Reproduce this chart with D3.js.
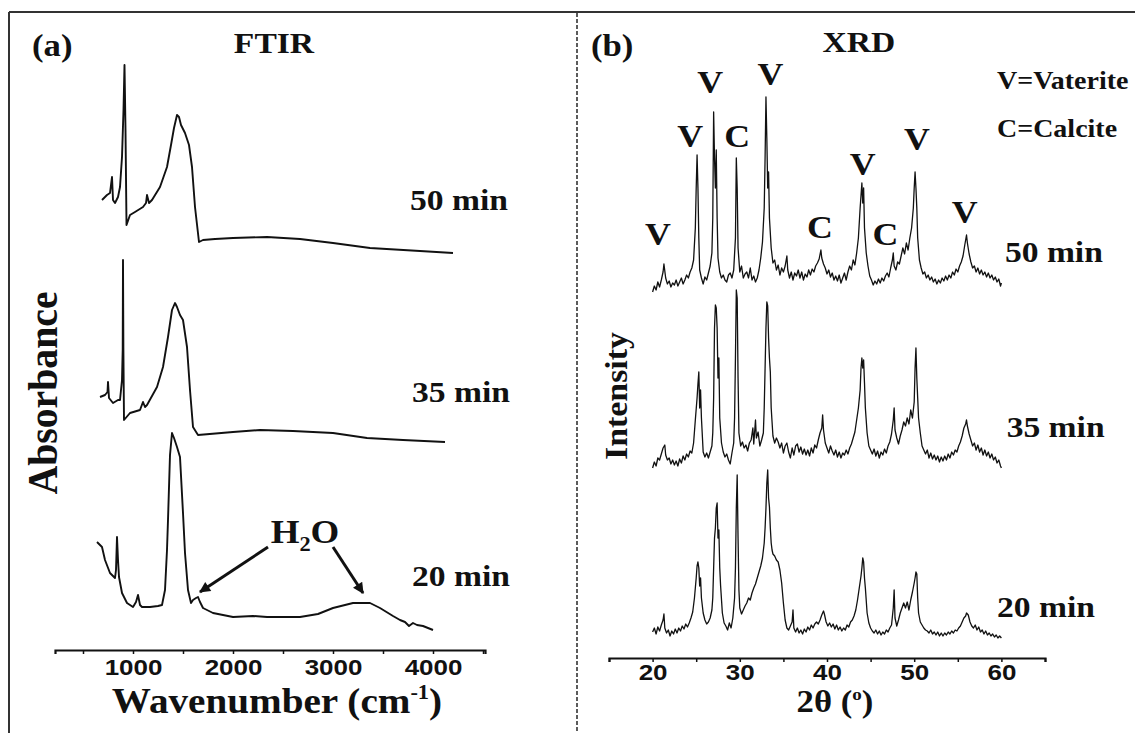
<!DOCTYPE html>
<html>
<head>
<meta charset="utf-8">
<script src="https://cdn.jsdelivr.net/npm/d3@7"></script>
<style>
  html, body { margin: 0; padding: 0; background: #fff; }
  svg { display: block; }
</style>
</head>
<body>
<script>
// ---------- FTIR spectra: [wavenumber (cm-1), absorbance (a.u., stacked)] ----------
const ftirTicks = [1000, 2000, 3000, 4000];
const ftirMinorTicks = [500, 1500, 2500, 3500, 4500];

const ftir50 = [[690,450],[740,455],[770,457],[790,473],[800,450],[820,447],[850,453],[870,463],
  [890,493],[905,540],[915,585],[925,520],[935,425],[970,435],[1020,438],[1100,443],[1130,447],
  [1140,455],[1160,447],[1190,450],[1270,463],[1340,483],[1380,505],[1410,522],[1440,535],
  [1460,533],[1480,525],[1520,517],[1560,505],[1590,483],[1620,443],[1660,408],[1700,410],
  [1820,411],[2000,412],[2340,413],[2670,411],[3000,407],[3370,402],[3870,399],[4200,397]];

const ftir35 = [[670,253],[720,255],[745,258],[750,268],[760,252],[800,247],[850,250],[870,250],
  [890,270],[897,300],[900,390],[904,300],[910,230],[970,237],[1070,240],[1100,248],[1120,243],
  [1140,245],[1240,263],[1300,283],[1350,313],[1390,340],[1420,347],[1440,343],[1470,335],
  [1500,330],[1540,303],[1570,260],[1600,223],[1650,215],[2000,218],[2270,220],[2600,219],
  [3000,217],[3340,212],[3700,210],[4120,208]];

const ftir20 = [[640,108],[690,103],[720,90],[770,77],[820,72],[830,80],[840,113],[850,90],
  [860,73],[890,57],[940,47],[1000,43],[1030,48],[1050,55],[1070,45],[1090,43],[1170,43],
  [1250,44],[1290,45],[1320,60],[1340,100],[1350,130],[1370,195],[1390,217],[1410,212],
  [1440,203],[1470,193],[1500,137],[1520,97],[1550,60],[1580,47],[1600,50],[1630,52],[1650,53],
  [1670,48],[1700,42],[1800,37],[2000,33],[2200,34],[2340,33],[2670,33],[2850,36],[3000,42],
  [3200,47],[3370,47],[3470,42],[3600,34],[3670,30],[3720,28],[3760,24],[3800,27],[3840,25],
  [3900,24],[3950,22],[4000,20]];

const ftirSeries = [ftir50, ftir35, ftir20];
const ftirTimes = ["50 min", "35 min", "20 min"];

// ---------- XRD patterns: [2θ (deg), intensity (a.u., stacked)] ----------
const xrdTicks = [20, 30, 40, 50, 60];
const xrdMinorTicks = [15, 25, 35, 45, 55, 65];

const xrd50 = [[20.0,366],[20.2,372],[20.4,368],[20.6,376],[20.8,371],[21.0,378],[21.2,386],[21.3,394],
  [21.5,380],[21.7,374],[21.9,377],[22.1,371],[22.3,375],[22.5,373],[22.7,378],[22.9,372],[23.1,376],
  [23.3,380],[23.5,374],[23.7,378],[23.9,383],[24.1,380],[24.3,386],[24.5,390],[24.7,398],[24.9,430],
  [25.0,470],[25.1,503],[25.2,470],[25.3,420],[25.4,388],[25.6,380],[25.8,374],[26.0,381],[26.2,378],
  [26.4,385],[26.6,392],[26.8,405],[26.9,440],[27.0,546],[27.1,500],[27.2,470],[27.3,508],[27.4,440],
  [27.5,400],[27.7,386],[27.9,380],[28.1,383],[28.3,378],[28.5,376],[28.7,383],[28.9,385],[29.1,380],
  [29.3,388],[29.5,420],[29.6,500],[29.7,470],[29.8,410],[30.0,386],[30.2,392],[30.4,380],[30.6,384],
  [30.8,386],[31.0,380],[31.2,390],[31.4,378],[31.6,382],[31.8,376],[32.0,380],[32.2,388],[32.4,400],
  [32.6,416],[32.8,450],[32.9,500],[33.0,561],[33.1,520],[33.2,470],[33.3,486],[33.4,440],[33.6,410],
  [33.8,395],[34.0,398],[34.2,388],[34.4,393],[34.6,383],[34.8,390],[35.0,386],[35.2,392],[35.4,402],
  [35.5,388],[35.7,380],[35.9,386],[36.1,378],[36.3,385],[36.5,382],[36.7,388],[36.9,380],[37.1,386],
  [37.3,378],[37.5,384],[37.7,381],[37.9,388],[38.1,383],[38.3,389],[38.5,386],[38.7,392],[38.9,395],
  [39.1,399],[39.3,408],[39.4,400],[39.6,394],[39.8,390],[40.0,384],[40.2,388],[40.4,381],[40.6,385],
  [40.8,378],[41.0,382],[41.2,377],[41.4,383],[41.6,375],[41.8,380],[42.0,385],[42.2,378],[42.4,386],
  [42.6,392],[42.8,388],[43.0,398],[43.2,393],[43.4,405],[43.6,420],[43.8,450],[44.0,475],[44.1,455],
  [44.2,470],[44.3,430],[44.5,405],[44.7,392],[44.9,382],[45.1,378],[45.3,373],[45.5,377],[45.7,374],
  [45.9,379],[46.1,375],[46.3,380],[46.5,377],[46.7,382],[46.9,385],[47.1,381],[47.3,390],[47.5,398],
  [47.6,405],[47.7,392],[47.9,388],[48.1,396],[48.3,394],[48.5,402],[48.7,410],[48.9,404],[49.1,415],
  [49.3,408],[49.5,420],[49.7,430],[49.9,450],[50.0,470],[50.1,486],[50.2,470],[50.3,450],[50.4,420],
  [50.6,398],[50.8,390],[51.0,384],[51.2,386],[51.4,380],[51.6,383],[51.8,378],[52.0,381],[52.2,376],
  [52.4,379],[52.6,374],[52.8,378],[53.0,375],[53.2,380],[53.4,377],[53.6,382],[53.8,378],[54.0,383],
  [54.2,380],[54.4,386],[54.6,383],[54.8,389],[55.0,386],[55.2,392],[55.4,396],[55.6,402],[55.8,413],
  [56.0,423],[56.1,415],[56.3,404],[56.5,396],[56.7,390],[56.9,392],[57.1,386],[57.3,390],[57.5,384],
  [57.7,388],[57.9,383],[58.1,386],[58.3,381],[58.5,385],[58.7,380],[58.9,383],[59.1,378],[59.3,381],
  [59.5,376],[59.7,379],[59.9,372],[60.0,375]];

const xrd35 = [[20.0,190],[20.2,196],[20.4,192],[20.6,200],[20.8,198],[21.0,204],[21.2,210],[21.4,213],
  [21.5,203],[21.7,198],[21.9,200],[22.1,194],[22.3,198],[22.5,193],[22.7,197],[22.9,192],[23.1,199],
  [23.3,195],[23.5,202],[23.7,198],[23.9,204],[24.1,201],[24.3,207],[24.5,205],[24.7,215],[24.9,238],
  [25.1,260],[25.2,274],[25.3,286],[25.4,250],[25.5,268],[25.6,240],[25.8,206],[26.0,201],[26.2,205],
  [26.4,200],[26.6,206],[26.8,212],[26.9,225],[27.0,260],[27.1,330],[27.2,353],[27.3,350],[27.4,330],
  [27.5,280],[27.6,300],[27.7,240],[27.9,215],[28.1,206],[28.3,201],[28.5,204],[28.7,198],[28.9,194],
  [29.1,205],[29.3,215],[29.4,240],[29.5,300],[29.6,368],[29.7,360],[29.8,280],[29.9,225],[30.1,212],
  [30.3,216],[30.5,210],[30.7,213],[30.9,207],[31.1,215],[31.3,218],[31.5,230],[31.6,214],[31.8,238],
  [31.9,220],[32.1,226],[32.3,212],[32.5,218],[32.7,225],[32.8,250],[32.9,290],[33.0,330],[33.1,356],
  [33.2,352],[33.3,320],[33.4,300],[33.5,286],[33.6,250],[33.8,222],[34.0,215],[34.2,220],[34.4,216],
  [34.6,210],[34.8,215],[35.0,205],[35.2,212],[35.4,215],[35.6,206],[35.8,200],[36.0,210],[36.2,203],
  [36.4,212],[36.6,214],[36.8,206],[37.0,211],[37.2,204],[37.4,209],[37.6,203],[37.8,208],[38.0,202],
  [38.2,210],[38.4,205],[38.6,213],[38.8,210],[39.0,218],[39.2,225],[39.4,230],[39.5,243],[39.6,228],
  [39.8,215],[40.0,210],[40.2,205],[40.4,212],[40.6,207],[40.8,203],[41.0,208],[41.2,201],[41.4,206],
  [41.6,200],[41.8,205],[42.0,203],[42.2,208],[42.4,204],[42.6,210],[42.8,214],[43.0,220],[43.2,226],
  [43.4,238],[43.6,250],[43.8,268],[43.9,290],[44.0,300],[44.1,290],[44.2,298],[44.3,275],[44.4,250],
  [44.6,225],[44.8,212],[45.0,208],[45.2,204],[45.4,209],[45.6,202],[45.8,207],[46.0,200],[46.2,206],
  [46.4,203],[46.6,209],[46.8,205],[47.0,212],[47.2,216],[47.4,224],[47.6,238],[47.7,250],[47.8,228],
  [48.0,220],[48.2,214],[48.4,222],[48.6,228],[48.8,236],[49.0,232],[49.2,240],[49.4,234],[49.6,248],
  [49.8,240],[50.0,256],[50.1,290],[50.2,310],[50.3,280],[50.4,260],[50.5,240],[50.7,225],[50.9,212],
  [51.1,208],[51.3,204],[51.5,208],[51.7,200],[51.9,205],[52.1,199],[52.3,203],[52.5,198],[52.7,202],
  [52.9,196],[53.1,201],[53.3,197],[53.5,202],[53.7,198],[53.9,204],[54.1,200],[54.3,206],[54.5,203],
  [54.7,208],[54.9,206],[55.1,212],[55.3,216],[55.5,222],[55.7,230],[55.9,234],[56.0,238],[56.1,232],
  [56.3,224],[56.5,218],[56.7,212],[56.9,215],[57.1,208],[57.3,213],[57.5,206],[57.7,210],[57.9,203],
  [58.1,208],[58.3,202],[58.5,206],[58.7,200],[58.9,204],[59.1,198],[59.3,201],[59.5,195],[59.7,198],
  [59.9,192],[60.0,190]];

const xrd20 = [[20.0,26],[20.2,30],[20.4,24],[20.6,31],[20.8,27],[21.0,33],[21.2,38],[21.3,44],[21.4,30],
  [21.6,25],[21.8,28],[22.0,22],[22.2,27],[22.4,24],[22.6,29],[22.8,25],[23.0,30],[23.2,27],[23.4,32],
  [23.6,29],[23.8,34],[24.0,31],[24.2,35],[24.4,40],[24.6,46],[24.8,60],[25.0,80],[25.1,92],[25.2,96],
  [25.3,90],[25.4,72],[25.5,80],[25.6,60],[25.8,45],[26.0,38],[26.2,34],[26.4,36],[26.6,40],[26.8,48],
  [26.9,60],[27.0,90],[27.1,120],[27.2,130],[27.3,150],[27.4,155],[27.5,120],[27.6,128],[27.7,90],
  [27.8,72],[28.0,45],[28.2,35],[28.4,32],[28.6,28],[28.8,35],[29.0,30],[29.2,40],[29.4,60],[29.5,90],
  [29.6,150],[29.7,183],[29.8,120],[29.9,68],[30.0,50],[30.2,44],[30.4,48],[30.6,52],[30.8,55],[31.0,60],
  [31.2,58],[31.4,65],[31.6,70],[31.8,74],[32.0,80],[32.2,86],[32.4,92],[32.6,100],[32.8,115],[32.9,130],
  [33.0,150],[33.1,175],[33.2,188],[33.3,160],[33.4,151],[33.5,130],[33.6,115],[33.7,108],[33.8,104],
  [34.0,102],[34.2,98],[34.4,96],[34.6,88],[34.8,75],[35.0,55],[35.2,38],[35.4,30],[35.6,28],[35.8,32],
  [36.0,36],[36.1,48],[36.2,30],[36.4,26],[36.6,30],[36.8,25],[37.0,28],[37.2,24],[37.4,29],[37.6,26],
  [37.8,31],[38.0,28],[38.2,33],[38.4,30],[38.6,34],[38.8,36],[39.0,34],[39.2,38],[39.4,43],[39.6,47],
  [39.7,44],[39.9,36],[40.1,32],[40.3,35],[40.5,31],[40.7,34],[40.9,29],[41.1,33],[41.3,28],[41.5,31],
  [41.7,27],[41.9,30],[42.1,28],[42.3,33],[42.5,31],[42.7,36],[42.9,38],[43.1,42],[43.3,48],[43.5,58],
  [43.7,70],[43.9,82],[44.0,90],[44.1,100],[44.2,96],[44.3,80],[44.4,70],[44.6,45],[44.8,35],[45.0,30],
  [45.2,27],[45.4,25],[45.6,28],[45.8,24],[46.0,27],[46.2,23],[46.4,26],[46.6,24],[46.8,28],[47.0,26],
  [47.2,30],[47.4,33],[47.6,50],[47.7,68],[47.8,40],[48.0,32],[48.2,38],[48.4,45],[48.6,50],[48.8,55],
  [49.0,50],[49.2,56],[49.4,48],[49.6,58],[49.8,66],[50.0,75],[50.1,80],[50.2,86],[50.3,84],[50.4,60],
  [50.5,45],[50.7,36],[50.9,33],[51.1,30],[51.3,28],[51.5,27],[51.7,25],[51.9,28],[52.1,24],[52.3,26],
  [52.5,23],[52.7,26],[52.9,22],[53.1,25],[53.3,22],[53.5,25],[53.7,23],[53.9,26],[54.1,24],[54.3,27],
  [54.5,25],[54.7,28],[54.9,27],[55.1,30],[55.3,32],[55.5,36],[55.7,40],[55.9,42],[56.0,45],[56.2,43],
  [56.4,36],[56.6,32],[56.8,30],[57.0,33],[57.2,28],[57.4,31],[57.6,26],[57.8,28],[58.0,24],[58.2,27],
  [58.4,23],[58.6,25],[58.8,22],[59.0,24],[59.2,21],[59.4,23],[59.6,20],[59.8,22],[60.0,20]];

const xrdSeries = [xrd50, xrd35, xrd20];
const xrdTimes = ["50 min", "35 min", "20 min"];

// Phase assignments above the 50 min pattern (V = vaterite, C = calcite)
const phaseLetters = ["V", "V", "V", "C", "V", "C", "V", "C", "V", "V"];
const phaseTheta   = [20.6, 24.3, 26.6, 29.7, 33.5, 39.2, 44.1, 46.7, 50.3, 55.8];
const phaseLevel   = [413, 511, 565, 511, 573, 420, 483, 413, 508, 435];
const legendLines  = ["V=Vaterite", "C=Calcite"];

// ---------- layout ----------
const W = 1135, H = 733;
const SERIF = "'Liberation Serif', 'Times New Roman', serif";
const SANS = "'Liberation Sans', Arial, sans-serif";
const SX = 1.12;          // horizontal stretch of lettering
const INK = "#111";

const svg = d3.select("body").append("svg").attr("width", W).attr("height", H);

const xL = d3.scaleLinear().domain([220, 4520]).range([55, 485]);
const yL = d3.scaleLinear().domain([0, 640]).range([650, 10]);
const xR = d3.scaleLinear().domain([15, 65]).range([609, 1045]);
const yR = d3.scaleLinear().domain([0, 640]).range([658, 18]);

function txt(sel, x, y, s, size, opts = {}) {
  const sx = opts.sx ?? SX;
  const rot = opts.rot ? ` rotate(${opts.rot})` : "";
  return sel.append("text")
    .attr("transform", `translate(${x},${y}) scale(${sx},1)${rot}`)
    .attr("font-family", opts.family || SERIF)
    .attr("font-weight", "bold")
    .attr("font-size", size)
    .attr("text-anchor", opts.anchor || "start")
    .attr("fill", INK)
    .text(s);
}

// frame and panel divider
svg.append("line").attr("x1", 9).attr("x2", W).attr("y1", 12).attr("y2", 12)
  .attr("stroke", "#333").attr("stroke-width", 2);
svg.append("line").attr("x1", 9).attr("x2", 9).attr("y1", 12).attr("y2", H)
  .attr("stroke", "#333").attr("stroke-width", 2);
svg.append("line").attr("x1", 577).attr("x2", 577).attr("y1", 13).attr("y2", H)
  .attr("stroke", "#333").attr("stroke-width", 1.6).attr("stroke-dasharray", "4,2");

// ---------- panel (a): FTIR ----------
const gA = svg.append("g");
txt(gA, 32, 56, "(a)", 31);
txt(gA, 274, 53, "FTIR", 30, { anchor: "middle" });

const lineL = d3.line().x(d => xL(d[0])).y(d => yL(d[1]));
gA.selectAll("path.ftir").data(ftirSeries).join("path")
  .attr("class", "ftir").attr("d", lineL)
  .attr("fill", "none").attr("stroke", INK).attr("stroke-width", 1.9)
  .attr("stroke-linejoin", "round");

const ftirLabelPos = [[3770, 440], [3790, 248], [3790, 64]];
ftirTimes.forEach((t, i) => txt(gA, xL(ftirLabelPos[i][0]), yL(ftirLabelPos[i][1]), t, 30));

// x axis
const axL = gA.append("g").attr("transform", `translate(0,${yL(0)})`);
axL.call(d3.axisBottom(xL).tickValues(ftirTicks).tickSize(4).tickFormat(d3.format("d")));
axL.append("g").call(d3.axisBottom(xL).tickValues(ftirMinorTicks).tickSize(4).tickFormat(""))
  .select(".domain").remove();
axL.selectAll(".domain").attr("stroke", INK).attr("stroke-width", 2.2);
axL.selectAll(".tick line").attr("stroke", INK).attr("stroke-width", 1.5);
axL.selectAll(".tick text")
  .attr("y", 25).attr("dy", 0)
  .attr("transform", "scale(1.18,1)")
  .attr("font-family", SANS).attr("font-weight", "bold").attr("font-size", 22).attr("fill", INK);

// axis titles
const wn = txt(gA, 277, 713, "", 35, { anchor: "middle" });
wn.append("tspan").text("Wavenumber (cm");
wn.append("tspan").attr("font-size", 20).attr("dy", -14).text("-1");
wn.append("tspan").attr("dy", 14).text(")");
txt(gA, 57, 393, "Absorbance", 37, { anchor: "middle", rot: -90 })
  .attr("textLength", 203).attr("lengthAdjust", "spacingAndGlyphs");

// H2O annotation with arrows
const defs = svg.append("defs");
defs.append("marker").attr("id", "head")
  .attr("viewBox", "0 0 10 10").attr("refX", 9).attr("refY", 5)
  .attr("markerWidth", 15).attr("markerHeight", 11).attr("markerUnits", "userSpaceOnUse")
  .attr("orient", "auto")
  .append("path").attr("d", "M0,0 L10,5 L0,10 Z").attr("fill", INK);

const h2o = txt(gA, xL(2720), yL(107), "", 33, { anchor: "middle" });
h2o.append("tspan").text("H");
h2o.append("tspan").attr("font-size", 20).attr("dy", 8).text("2");
h2o.append("tspan").attr("dy", -8).text("O");

const arrows = [[[2350, 103], [1670, 58]], [[3000, 103], [3300, 57]]];
gA.selectAll("line.arrow").data(arrows).join("line")
  .attr("class", "arrow")
  .attr("x1", d => xL(d[0][0])).attr("y1", d => yL(d[0][1]))
  .attr("x2", d => xL(d[1][0])).attr("y2", d => yL(d[1][1]))
  .attr("stroke", INK).attr("stroke-width", 3).attr("marker-end", "url(#head)");

// ---------- panel (b): XRD ----------
const gB = svg.append("g");
txt(gB, 591, 56, "(b)", 31);
txt(gB, 859, 52, "XRD", 30, { anchor: "middle" });

const lineR = d3.line().x(d => xR(d[0])).y(d => yR(d[1]));
gB.selectAll("path.xrd").data(xrdSeries).join("path")
  .attr("class", "xrd").attr("d", lineR)
  .attr("fill", "none").attr("stroke", INK).attr("stroke-width", 1.3)
  .attr("stroke-linejoin", "round");

const xrdLabelPos = [[60.4, 396], [60.6, 221], [59.5, 41]];
xrdTimes.forEach((t, i) => txt(gB, xR(xrdLabelPos[i][0]), yR(xrdLabelPos[i][1]), t, 30));

phaseLetters.forEach((s, i) =>
  txt(gB, xR(phaseTheta[i]), yR(phaseLevel[i]), s, 32, { anchor: "middle" }));

legendLines.forEach((s, i) => txt(gB, 997, 89 + i * 48, s, 25));

const axR = gB.append("g").attr("transform", `translate(0,${yR(0)})`);
axR.call(d3.axisBottom(xR).tickValues(xrdTicks).tickSize(4).tickFormat(d3.format("d")));
axR.append("g").call(d3.axisBottom(xR).tickValues(xrdMinorTicks).tickSize(4).tickFormat(""))
  .select(".domain").remove();
axR.selectAll(".domain").attr("stroke", INK).attr("stroke-width", 2.2);
axR.selectAll(".tick line").attr("stroke", INK).attr("stroke-width", 1.5);
axR.selectAll(".tick text")
  .attr("y", 22).attr("dy", 0)
  .attr("transform", "scale(1.18,1)")
  .attr("font-family", SANS).attr("font-weight", "bold").attr("font-size", 22).attr("fill", INK);

const tt = txt(gB, 835, 712, "", 31, { anchor: "middle" });
tt.append("tspan").text("2\u03B8 (");
tt.append("tspan").attr("font-size", 17).attr("dy", -12).text("o");
tt.append("tspan").attr("dy", 12).text(")");

txt(gB, 627, 396, "Intensity", 28, { anchor: "middle", rot: -90 })
  .attr("textLength", 128).attr("lengthAdjust", "spacingAndGlyphs");
</script>
</body>
</html>
